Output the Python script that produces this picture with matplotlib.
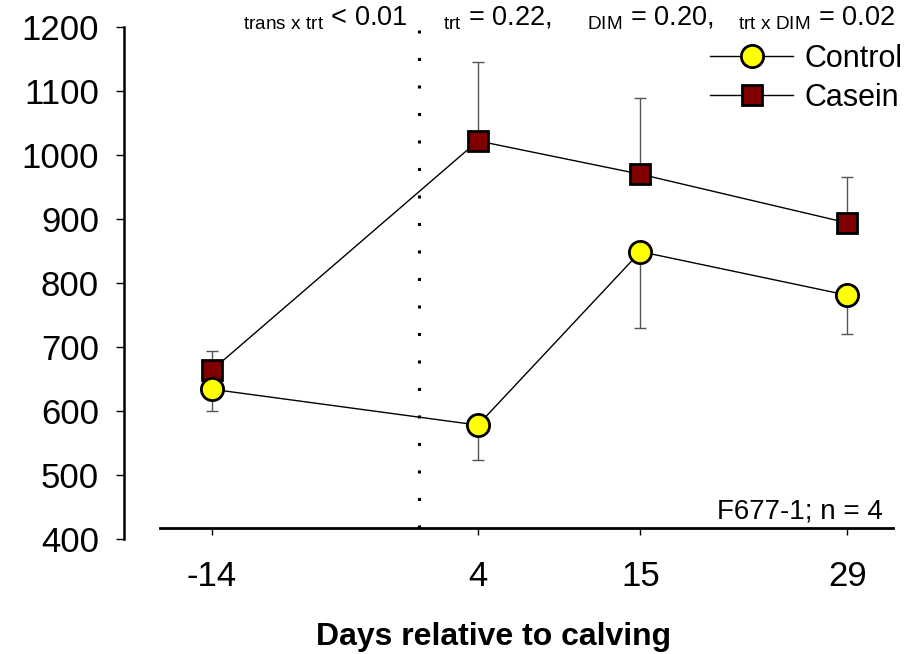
import numpy as np
import matplotlib.pyplot as plt

plt.rcParams.update(
    {
        "font.family": ["Liberation Sans", "DejaVu Sans"],
        "mathtext.fontset": "custom",
        "mathtext.rm": "Liberation Sans",
        "mathtext.it": "Liberation Sans:italic",
        "mathtext.bf": "Liberation Sans:bold",
    }
)

# data
days = [-14, 4, 15, 29]
day_labels = ["-14", "4", "15", "29"]
control_mean = [634, 578, 849, 781]
control_se = [34, 55, 119, 61]
casein_mean = [664, 1022, 970, 894]
casein_se = [30, 124, 119, 72]
calving_day = 0

fig = plt.figure(figsize=(9.16, 6.54), dpi=100)
ax = fig.add_axes([124 / 916, (654 - 539) / 654, 769 / 916, 512 / 654])

err_kw = dict(ecolor="#555555", elinewidth=1.0, capsize=4, capthick=1.0)
zeros = np.zeros(len(days))

ax.errorbar(days, casein_mean, yerr=[zeros, casein_se], fmt="none", zorder=2, **err_kw)
ax.errorbar(days, control_mean, yerr=[control_se, zeros], fmt="none", zorder=2, **err_kw)

ax.plot(days, control_mean, color="black", lw=1.0, marker="o", ms=16,
        mfc="#ffff00", mec="black", mew=2, label="Control", zorder=4)
ax.plot(days, casein_mean, color="black", lw=1.0, marker="s", ms=14.5,
        mfc="#800000", mec="black", mew=2, label="Casein", zorder=3)

ax.vlines(calving_day, 417, 1195, colors="black", lw=2.2, linestyles=(0, (1, 8)))

ax.set_xlim(-19.96, 32.1)
ax.set_ylim(400, 1200)
ax.set_yticks(np.arange(400, 1201, 100))
ax.set_xticks(days)
ax.set_xticklabels(day_labels)

for s in ["top", "right"]:
    ax.spines[s].set_visible(False)
ax.spines["left"].set_linewidth(1.8)
ax.spines["bottom"].set_linewidth(2.0)
ax.spines["bottom"].set_position(("data", 417))
ax.spines["bottom"].set_bounds(-17.5, 32.1)

ax.tick_params(axis="y", direction="out", length=6, width=1, pad=12, labelsize=25)
ax.tick_params(axis="x", direction="out", length=5, width=1, pad=18, labelsize=25)

ax.set_xlabel("Days relative to calving", fontsize=23, fontweight="bold")
ax.xaxis.set_label_coords((494 - 124) / 769, -0.162)

ax.legend(loc="upper right", bbox_to_anchor=(903 / 916, 1 - 44 / 654),
          bbox_transform=fig.transFigure, frameon=False, fontsize=22,
          numpoints=1, handlelength=2.7, handletextpad=0.4,
          labelspacing=0.3, borderpad=0, borderaxespad=0)

# P-value annotations along the top
notes = [
    (243, r"${}_{\rm trans\ x\ trt}$ < 0.01"),
    (443, r"${}_{\rm trt}$ = 0.22,"),
    (587, r"${}_{\rm DIM}$ = 0.20,"),
    (738, r"${}_{\rm trt\ x\ DIM}$ = 0.02"),
]
for px, txt in notes:
    fig.text(px / 916, 1 - 25 / 654, txt, fontsize=19.5, va="baseline", ha="left")

fig.text(883 / 916, 1 - 518 / 654, "F677-1; n = 4", fontsize=20,
         va="baseline", ha="right")

fig.savefig("out.png", dpi=100)
